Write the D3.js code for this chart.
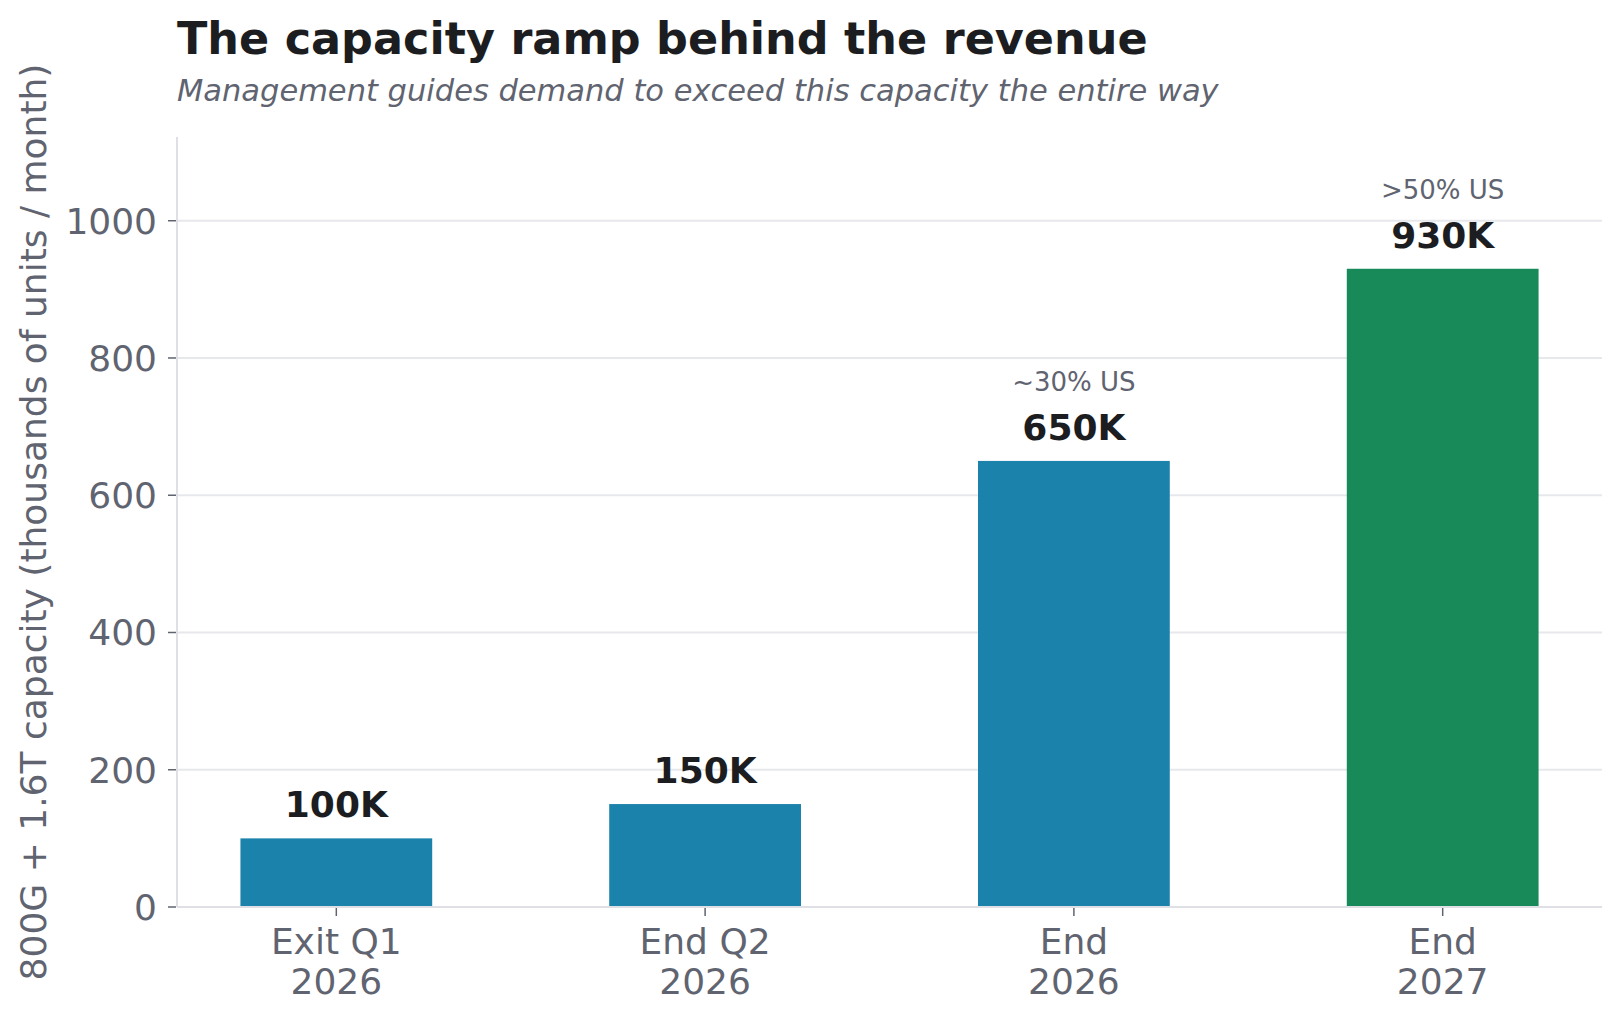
<!DOCTYPE html>
<html>
<head>
<meta charset="utf-8">
<script src="https://cdn.jsdelivr.net/npm/d3@7"></script>
<style>
  body { margin: 0; background: #fff; }
  text { font-family: "DejaVu Sans", sans-serif; }
</style>
</head>
<body>
<svg id="chart" width="1622" height="1020"></svg>
<script>
// capacity ramp data
const periods = ["Exit Q1\n2026", "End Q2\n2026", "End\n2026", "End\n2027"];
const capacity = [100, 150, 650, 930];
const valueLabels = ["100K", "150K", "650K", "930K"];
const notes = ["", "", "~30% US", ">50% US"];
const barColours = ["#1b83ab", "#1b83ab", "#1b83ab", "#188a5a"];
const yTicks = [0, 200, 400, 600, 800, 1000];
const yMax = 1122;

const grey = "#5f6470";
const ink = "#1c1d21";

const svg = d3.select("#chart");
const m = {left: 177, right: 1602, top: 137, bottom: 907};

const x = d3.scaleBand()
  .domain(d3.range(periods.length))
  .range([m.left, m.right])
  .paddingInner(0.48)
  .paddingOuter(0.172);

const y = d3.scaleLinear().domain([0, yMax]).range([m.bottom, m.top]);

// gridlines
svg.append("g").selectAll("line").data(yTicks.slice(1)).join("line")
  .attr("x1", m.left).attr("x2", m.right)
  .attr("y1", d => y(d)).attr("y2", d => y(d))
  .attr("stroke", "#e7e8ec").attr("stroke-width", 2);

// bars
svg.append("g").selectAll("rect").data(capacity).join("rect")
  .attr("x", (d, i) => x(i))
  .attr("width", x.bandwidth())
  .attr("y", d => y(d))
  .attr("height", d => y(0) - y(d))
  .attr("fill", (d, i) => barColours[i]);

// axes lines
svg.append("line").attr("x1", m.left).attr("x2", m.left).attr("y1", m.top).attr("y2", m.bottom)
  .attr("stroke", "#dfe0e5").attr("stroke-width", 2);
svg.append("line").attr("x1", m.left).attr("x2", m.right).attr("y1", m.bottom).attr("y2", m.bottom)
  .attr("stroke", "#dfe0e5").attr("stroke-width", 2);

// y ticks
const yg = svg.append("g");
yg.selectAll("line").data(yTicks).join("line")
  .attr("x1", m.left - 9).attr("x2", m.left - 1)
  .attr("y1", d => y(d)).attr("y2", d => y(d))
  .attr("stroke", grey).attr("stroke-width", 1.5);
yg.selectAll("text").data(yTicks).join("text")
  .attr("x", m.left - 20).attr("y", d => y(d))
  .attr("dy", "0.36em")
  .attr("text-anchor", "end")
  .attr("fill", grey).attr("font-size", 36)
  .text(d => d);

// x ticks
const xg = svg.append("g");
xg.selectAll("line").data(periods).join("line")
  .attr("x1", (d, i) => x(i) + x.bandwidth() / 2).attr("x2", (d, i) => x(i) + x.bandwidth() / 2)
  .attr("y1", m.bottom + 1).attr("y2", m.bottom + 9)
  .attr("stroke", grey).attr("stroke-width", 1.5);
xg.selectAll("text").data(periods).join("text")
  .attr("x", (d, i) => x(i) + x.bandwidth() / 2)
  .attr("y", 954)
  .attr("text-anchor", "middle")
  .attr("fill", grey).attr("font-size", 36)
  .each(function(d) {
    const t = d3.select(this);
    d.split("\n").forEach((line, j) => {
      t.append("tspan").attr("x", t.attr("x")).attr("dy", j ? 40 : 0).text(line);
    });
  });

// value labels
svg.append("g").selectAll("text").data(capacity).join("text")
  .attr("x", (d, i) => x(i) + x.bandwidth() / 2)
  .attr("y", d => y(d) - 21)
  .attr("text-anchor", "middle")
  .attr("fill", ink).attr("font-size", 36).attr("font-weight", "bold")
  .text((d, i) => valueLabels[i]);

// share notes
svg.append("g").selectAll("text").data(capacity).join("text")
  .attr("x", (d, i) => x(i) + x.bandwidth() / 2)
  .attr("y", d => y(d) - 70)
  .attr("text-anchor", "middle")
  .attr("fill", grey).attr("font-size", 26)
  .text((d, i) => notes[i]);

// y label
svg.append("text")
  .attr("transform", `translate(46, ${(m.top + m.bottom) / 2}) rotate(-90)`)
  .attr("text-anchor", "middle")
  .attr("fill", grey).attr("font-size", 36)
  .text("800G + 1.6T capacity (thousands of units / month)");

// titles
svg.append("text").attr("x", 177).attr("y", 54)
  .attr("fill", ink).attr("font-size", 44.5).attr("font-weight", "bold")
  .text("The capacity ramp behind the revenue");
svg.append("text").attr("x", 177).attr("y", 101)
  .attr("fill", grey).attr("font-size", 30.5).attr("font-style", "italic")
  .text("Management guides demand to exceed this capacity the entire way");
</script>
</body>
</html>
